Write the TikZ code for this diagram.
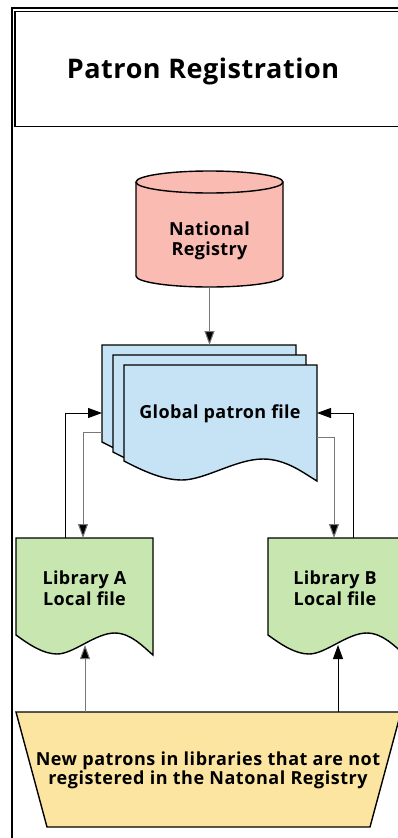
\documentclass[tikz,border=0pt]{standalone}
\usepackage{fontspec}
\setmainfont{Open Sans}[LetterSpace=2]
\usetikzlibrary{arrows.meta}
\definecolor{cylfill}{RGB}{250,187,178}
\definecolor{docblue}{RGB}{197,227,245}
\definecolor{libgreen}{RGB}{200,230,176}
\definecolor{trapyellow}{RGB}{252,229,160}
\definecolor{arrgray}{RGB}{120,120,120}
\newcommand\mydocshape[5]{%
  \begin{scope}[shift={(#1,#2)}]
    \begin{scope}[xscale=#3]
      \filldraw[shapeline, fill=#5] (0,0) -- (1,0) -- (1,{#4+20})
        .. controls (0.93,{#4+12}) and (0.84,{#4-2}) .. (0.72,{#4-2})
        .. controls (0.58,{#4-2}) and (0.42,{#4+19}) .. (0.3,{#4+19})
        .. controls (0.2,{#4+19}) and (0.1,{#4+10}) .. (0,#4) -- cycle;
    \end{scope}
  \end{scope}}
\begin{document}
\begin{tikzpicture}[x=1pt,y=-1pt,
  shapeline/.style={draw=black, line width=1.4pt, line join=miter},
  conn/.style={draw=arrgray, line width=1pt, -{Triangle[length=14pt,width=10pt,fill=black]}},
  conndark/.style={draw=black, line width=0.9pt, -{Triangle[length=14pt,width=10pt,fill=black]}},
  lbl/.style={font=\fontsize{18}{20.5}\selectfont\bfseries, align=center, inner sep=0pt},
  trlbl/.style={font=\fontsize{18}{17.5}\selectfont\bfseries\addfontfeature{LetterSpace=3}, align=center, inner sep=0pt},
  ttl/.style={font=\fontsize{27}{30}\selectfont\bfseries, inner sep=0pt}]
\useasboundingbox (0,0) rectangle (398,838);
\clip (0,0) rectangle (398,838);
\fill[white] (0,0) rectangle (398,838);
% frame and title
\draw[line width=2pt] (12,850) -- (12,7.5) -- (420,7.5);
\draw[line width=1.5pt] (14.8,11.5) rectangle (420,126.5);
\node[ttl] (title) at (203,71) {Patron Registration};
% cylinder
\filldraw[shapeline, fill=cylfill] (136,182) -- (136,276)
  arc[start angle=180, end angle=0, x radius=73.5, y radius=11]
  -- (283,182)
  arc[start angle=0, end angle=-180, x radius=73.5, y radius=11] -- cycle;
\draw[shapeline] (136,182) arc[start angle=180, end angle=0, x radius=73.5, y radius=11];
\node[lbl] (natreg) at (209.5,241) {National\\Registry};
\coordinate (cylbot) at (209.5,287);
% multi-document
\mydocshape{102}{345}{194}{97}{docblue}
\mydocshape{113}{355}{193}{97}{docblue}
\mydocshape{124}{365}{193}{96}{docblue}
\node[lbl] (global) at (220,414) {Global patron file};
\coordinate (doctop) at (209.5,345);
\coordinate (docL1) at (102,413);
\coordinate (docL2) at (102,432);
\coordinate (docR1) at (317,413);
\coordinate (docR2) at (317,437);
% libraries
\mydocshape{16}{538}{137}{97}{libgreen}
\mydocshape{268}{538}{137}{97}{libgreen}
\node[lbl] (libA) at (84.5,588) {Library A\\Local file};
\node[lbl] (libB) at (335,588) {Library B\\Local file};
\coordinate (libAtopL) at (65,538);
\coordinate (libAtopR) at (83,538);
\coordinate (libBtopL) at (334,538);
\coordinate (libBtopR) at (353,538);
\coordinate (libAbot) at (85,645);
\coordinate (libBbot) at (338,645);
% trapezoid
\filldraw[shapeline, fill=trapyellow] (16,712) -- (401,712) -- (370,827) -- (47,827) -- cycle;
\node[trlbl] (newpat) at (208,770) {New patrons in libraries that are not\\registered in the Natonal Registry};
\coordinate (trapA) at (85,712);
\coordinate (trapB) at (338,712);
% connectors
\draw[conn] (cylbot) -- (doctop);
\draw[conndark] (libAtopL) |- (docL1);
\draw[conn] (docL2) -| (libAtopR);
\draw[conndark] (libBtopR) |- (docR1);
\draw[conn] (docR2) -| (libBtopL);
\draw[conn] (trapA) -- (libAbot);
\draw[conndark] (trapB) -- (libBbot);
\end{tikzpicture}
\end{document}
